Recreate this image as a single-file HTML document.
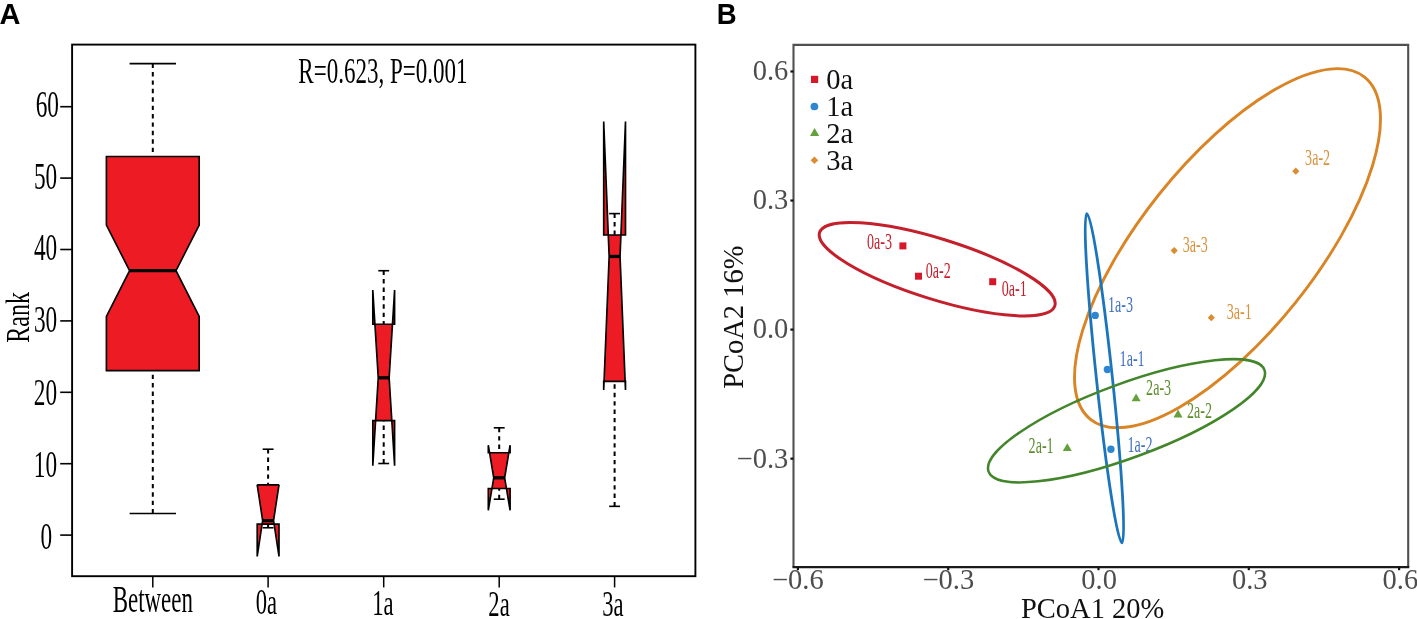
<!DOCTYPE html>
<html><head><meta charset="utf-8"><title>Figure</title>
<style>
html,body{margin:0;padding:0;background:#fff;}
body{width:1417px;height:619px;overflow:hidden;}
svg{display:block;will-change:transform;}
.ser{font-family:"Liberation Serif","Times New Roman",serif;}
.san{font-family:"Liberation Sans",Arial,sans-serif;font-weight:bold;}
</style></head><body>
<svg width="1417" height="619" viewBox="0 0 1417 619">
<rect width="1417" height="619" fill="#fff"/>
<g id="panelA">
<text class="san" x="-0.5" y="23.9" font-size="29" fill="#000">A</text>
<path d="M106.4,370.68 L106.4,316.42 L129.6,270.72 L106.4,225.02 L106.4,156.48 L199.2,156.48 L199.2,225.02 L176.0,270.72 L199.2,316.42 L199.2,370.68 Z" fill="#ED1C24" fill-rule="evenodd" stroke="#000" stroke-width="1.65" stroke-linejoin="miter" stroke-miterlimit="10"/>
<line x1="129.6" y1="270.72" x2="176.0" y2="270.72" stroke="#000" stroke-width="3.3"/>
<line x1="152.8" y1="63.66" x2="152.8" y2="156.48" stroke="#000" stroke-width="2.0" stroke-dasharray="4.4 4.0"/>
<line x1="152.8" y1="513.48" x2="152.8" y2="370.68" stroke="#000" stroke-width="2.0" stroke-dasharray="4.4 4.0"/>
<line x1="129.6" y1="63.66" x2="176.0" y2="63.66" stroke="#000" stroke-width="1.6"/>
<line x1="129.6" y1="513.48" x2="176.0" y2="513.48" stroke="#000" stroke-width="1.6"/>
<path d="M257.2,524.19 L257.2,556.46 L262.65,520.62 L257.2,484.78 L257.2,484.92 L279.0,484.92 L279.0,484.78 L273.55,520.62 L279.0,556.46 L279.0,524.19 Z" fill="#ED1C24" fill-rule="evenodd" stroke="#000" stroke-width="1.65" stroke-linejoin="miter" stroke-miterlimit="10"/>
<line x1="262.65" y1="520.62" x2="273.55" y2="520.62" stroke="#000" stroke-width="3.3"/>
<line x1="268.1" y1="449.22" x2="268.1" y2="484.92" stroke="#000" stroke-width="2.0" stroke-dasharray="4.4 4.0"/>
<line x1="268.1" y1="527.76" x2="268.1" y2="524.19" stroke="#000" stroke-width="2.0" stroke-dasharray="4.4 4.0"/>
<line x1="262.65" y1="449.22" x2="273.55" y2="449.22" stroke="#000" stroke-width="1.6"/>
<line x1="262.65" y1="527.76" x2="273.55" y2="527.76" stroke="#000" stroke-width="1.6"/>
<path d="M372.8,420.66 L372.8,465.64 L378.25,377.82 L372.8,290.0 L372.8,324.27 L394.6,324.27 L394.6,290.0 L389.15,377.82 L394.6,465.64 L394.6,420.66 Z" fill="#ED1C24" fill-rule="evenodd" stroke="#000" stroke-width="1.65" stroke-linejoin="miter" stroke-miterlimit="10"/>
<line x1="378.25" y1="377.82" x2="389.15" y2="377.82" stroke="#000" stroke-width="3.3"/>
<line x1="383.7" y1="270.72" x2="383.7" y2="324.27" stroke="#000" stroke-width="2.0" stroke-dasharray="4.4 4.0"/>
<line x1="383.7" y1="463.5" x2="383.7" y2="420.66" stroke="#000" stroke-width="2.0" stroke-dasharray="4.4 4.0"/>
<line x1="378.25" y1="270.72" x2="389.15" y2="270.72" stroke="#000" stroke-width="1.6"/>
<line x1="378.25" y1="463.5" x2="389.15" y2="463.5" stroke="#000" stroke-width="1.6"/>
<path d="M488.3,488.49 L488.3,510.34 L493.75,477.78 L488.3,445.22 L488.3,452.79 L510.1,452.79 L510.1,445.22 L504.65,477.78 L510.1,510.34 L510.1,488.49 Z" fill="#ED1C24" fill-rule="evenodd" stroke="#000" stroke-width="1.65" stroke-linejoin="miter" stroke-miterlimit="10"/>
<line x1="493.75" y1="477.78" x2="504.65" y2="477.78" stroke="#000" stroke-width="3.3"/>
<line x1="499.2" y1="427.8" x2="499.2" y2="452.79" stroke="#000" stroke-width="2.0" stroke-dasharray="4.4 4.0"/>
<line x1="499.2" y1="499.2" x2="499.2" y2="488.49" stroke="#000" stroke-width="2.0" stroke-dasharray="4.4 4.0"/>
<line x1="493.75" y1="427.8" x2="504.65" y2="427.8" stroke="#000" stroke-width="1.6"/>
<line x1="493.75" y1="499.2" x2="504.65" y2="499.2" stroke="#000" stroke-width="1.6"/>
<path d="M603.7,381.39 L603.7,389.96 L609.15,256.44 L603.7,121.49 L603.7,235.02 L625.5,235.02 L625.5,121.49 L620.05,256.44 L625.5,389.96 L625.5,381.39 Z" fill="#ED1C24" fill-rule="evenodd" stroke="#000" stroke-width="1.65" stroke-linejoin="miter" stroke-miterlimit="10"/>
<line x1="609.15" y1="256.44" x2="620.05" y2="256.44" stroke="#000" stroke-width="3.3"/>
<line x1="614.6" y1="213.6" x2="614.6" y2="235.02" stroke="#000" stroke-width="2.0" stroke-dasharray="4.4 4.0"/>
<line x1="614.6" y1="506.34" x2="614.6" y2="381.39" stroke="#000" stroke-width="2.0" stroke-dasharray="4.4 4.0"/>
<line x1="609.15" y1="213.6" x2="620.05" y2="213.6" stroke="#000" stroke-width="1.6"/>
<line x1="609.15" y1="506.34" x2="620.05" y2="506.34" stroke="#000" stroke-width="1.6"/>
<rect x="72.1" y="44.6" width="623.3" height="531.6" fill="none" stroke="#000" stroke-width="1.9"/>
<line x1="60.2" y1="535.1" x2="72.2" y2="535.1" stroke="#000" stroke-width="1.6"/>
<text class="ser" transform="translate(46.4,549.4) scale(0.63,1)" font-size="37" text-anchor="middle" fill="#000">0</text>
<line x1="60.2" y1="463.7" x2="72.2" y2="463.7" stroke="#000" stroke-width="1.6"/>
<text class="ser" transform="translate(45.4,477.4) scale(0.63,1)" font-size="37" text-anchor="middle" fill="#000">10</text>
<line x1="60.2" y1="392.3" x2="72.2" y2="392.3" stroke="#000" stroke-width="1.6"/>
<text class="ser" transform="translate(45.5,405.1) scale(0.63,1)" font-size="37" text-anchor="middle" fill="#000">20</text>
<line x1="60.2" y1="320.9" x2="72.2" y2="320.9" stroke="#000" stroke-width="1.6"/>
<text class="ser" transform="translate(45.6,331.6) scale(0.63,1)" font-size="37" text-anchor="middle" fill="#000">30</text>
<line x1="60.2" y1="249.5" x2="72.2" y2="249.5" stroke="#000" stroke-width="1.6"/>
<text class="ser" transform="translate(45.6,260.3) scale(0.63,1)" font-size="37" text-anchor="middle" fill="#000">40</text>
<line x1="60.2" y1="178.1" x2="72.2" y2="178.1" stroke="#000" stroke-width="1.6"/>
<text class="ser" transform="translate(45.6,189.4) scale(0.63,1)" font-size="37" text-anchor="middle" fill="#000">50</text>
<line x1="60.2" y1="106.7" x2="72.2" y2="106.7" stroke="#000" stroke-width="1.6"/>
<text class="ser" transform="translate(47.3,117.4) scale(0.63,1)" font-size="37" text-anchor="middle" fill="#000">60</text>
<line x1="152.8" y1="576.2" x2="152.8" y2="587.4" stroke="#000" stroke-width="1.5"/>
<text class="ser" transform="translate(152.8,612.0) scale(0.62,1)" font-size="37" text-anchor="middle" fill="#000">Between</text>
<line x1="268.1" y1="576.2" x2="268.1" y2="587.4" stroke="#000" stroke-width="1.5"/>
<text class="ser" transform="translate(266.4,613.7) scale(0.62,1)" font-size="36.5" text-anchor="middle" fill="#000">0a</text>
<line x1="383.7" y1="576.2" x2="383.7" y2="587.4" stroke="#000" stroke-width="1.5"/>
<text class="ser" transform="translate(382.9,615.0) scale(0.62,1)" font-size="36.5" text-anchor="middle" fill="#000">1a</text>
<line x1="499.2" y1="576.2" x2="499.2" y2="587.4" stroke="#000" stroke-width="1.5"/>
<text class="ser" transform="translate(499.0,615.8) scale(0.62,1)" font-size="36.5" text-anchor="middle" fill="#000">2a</text>
<line x1="614.6" y1="576.2" x2="614.6" y2="587.4" stroke="#000" stroke-width="1.5"/>
<text class="ser" transform="translate(612.9,616.2) scale(0.62,1)" font-size="36.5" text-anchor="middle" fill="#000">3a</text>
<text class="ser" transform="translate(382.9,83.4) scale(0.631,1)" font-size="36.5" text-anchor="middle" fill="#000">R=0.623, P=0.001</text>
<text class="ser" transform="translate(29.3,317.3) rotate(-90) scale(0.707,1)" font-size="34" text-anchor="middle" fill="#000">Rank</text>
</g>
<g id="panelB">
<text class="san" transform="translate(716.7,24) scale(0.95,1)" font-size="29" fill="#000">B</text>
<ellipse cx="1227.5" cy="248.2" rx="219.2" ry="87.1" transform="rotate(-51.3 1227.5 248.2)" fill="none" stroke="#D98425" stroke-width="2.9"/>
<ellipse cx="937.2" cy="269.2" rx="123.2" ry="30.3" transform="rotate(17.3 937.2 269.2)" fill="none" stroke="#C4202C" stroke-width="3"/>
<text class="ser" transform="translate(866.9,248.8) scale(0.60,1)" font-size="23.5" fill="#C4202C">0a-3</text>
<text class="ser" transform="translate(925.7,277.6) scale(0.60,1)" font-size="23.5" fill="#C4202C">0a-2</text>
<text class="ser" transform="translate(1001.7,295.7) scale(0.60,1)" font-size="23.5" fill="#C4202C">0a-1</text>
<text class="ser" transform="translate(1108.0,312.0) scale(0.60,1)" font-size="23.5" fill="#4170C0">1a-3</text>
<text class="ser" transform="translate(1119.6,365.7) scale(0.60,1)" font-size="23.5" fill="#4170C0">1a-1</text>
<text class="ser" transform="translate(1127.4,452.1) scale(0.60,1)" font-size="23.5" fill="#4170C0">1a-2</text>
<text class="ser" transform="translate(1146.1,394.6) scale(0.60,1)" font-size="23.5" fill="#5E8C2F">2a-3</text>
<text class="ser" transform="translate(1186.9,417.6) scale(0.60,1)" font-size="23.5" fill="#5E8C2F">2a-2</text>
<text class="ser" transform="translate(1028.6,452.6) scale(0.60,1)" font-size="23.5" fill="#5E8C2F">2a-1</text>
<text class="ser" transform="translate(1305.1,164.8) scale(0.60,1)" font-size="23.5" fill="#D9923B">3a-2</text>
<text class="ser" transform="translate(1182.7,252.0) scale(0.60,1)" font-size="23.5" fill="#D9923B">3a-3</text>
<text class="ser" transform="translate(1226.7,319.3) scale(0.60,1)" font-size="23.5" fill="#D9923B">3a-1</text>
<ellipse cx="1104.4" cy="378.2" rx="8" ry="165.6" transform="rotate(-6.07 1104.4 378.2)" fill="none" stroke="#1B75BC" stroke-width="2.8"/>
<ellipse cx="1126.5" cy="420.8" rx="147.0" ry="37.0" transform="rotate(-20.25 1126.5 420.8)" fill="none" stroke="#43852B" stroke-width="2.5"/>
<rect x="899.4" y="242.4" width="7.0" height="7.0" fill="#D7182A"/>
<rect x="915.0" y="272.7" width="7.0" height="7.0" fill="#D7182A"/>
<rect x="989.2" y="278.2" width="7.0" height="7.0" fill="#D7182A"/>
<circle cx="1095.2" cy="315.4" r="3.7" fill="#2E86D1"/>
<circle cx="1107.4" cy="369.5" r="3.7" fill="#2E86D1"/>
<circle cx="1110.9" cy="449.2" r="3.7" fill="#2E86D1"/>
<path d="M1131.6,401.3 L1140.6,401.3 L1136.1,393.5 Z" fill="#64A03C"/>
<path d="M1173.5,417.4 L1182.5,417.4 L1178.0,409.6 Z" fill="#64A03C"/>
<path d="M1062.8,451.0 L1071.8,451.0 L1067.3,443.2 Z" fill="#64A03C"/>
<path d="M1292.2,171.2 L1295.8,167.6 L1299.4,171.2 L1295.8,174.8 Z" fill="#DC8C30"/>
<path d="M1170.6,250.6 L1174.2,247.0 L1177.8,250.6 L1174.2,254.2 Z" fill="#DC8C30"/>
<path d="M1207.7,317.7 L1211.3,314.1 L1214.9,317.7 L1211.3,321.3 Z" fill="#DC8C30"/>
<path d="M793.5,567.1 L793.5,44.9 L1408.2,44.9 L1408.2,567.1" fill="none" stroke="#505050" stroke-width="2.1"/>
<line x1="792.45" y1="567.1" x2="1409.25" y2="567.1" stroke="#1a1a1a" stroke-width="2.1"/>
<line x1="790.4" y1="71.48" x2="793.5" y2="71.48" stroke="#111" stroke-width="2.2"/>
<text class="ser" x="788.3" y="80.3" font-size="28.5" text-anchor="end" fill="#4d4d4d">0.6</text>
<line x1="790.4" y1="200.54" x2="793.5" y2="200.54" stroke="#111" stroke-width="2.2"/>
<text class="ser" x="788.3" y="209.3" font-size="28.5" text-anchor="end" fill="#4d4d4d">0.3</text>
<line x1="790.4" y1="329.6" x2="793.5" y2="329.6" stroke="#111" stroke-width="2.2"/>
<text class="ser" x="788.3" y="338.4" font-size="28.5" text-anchor="end" fill="#4d4d4d">0.0</text>
<line x1="790.4" y1="458.66" x2="793.5" y2="458.66" stroke="#111" stroke-width="2.2"/>
<text class="ser" x="788.3" y="467.5" font-size="28.5" text-anchor="end" fill="#4d4d4d">−0.3</text>
<line x1="797.9" y1="567.1" x2="797.9" y2="570.2" stroke="#111" stroke-width="2.2"/>
<text class="ser" x="797.8" y="589.1" font-size="28.5" text-anchor="middle" fill="#4d4d4d">−0.6</text>
<line x1="948.2" y1="567.1" x2="948.2" y2="570.2" stroke="#111" stroke-width="2.2"/>
<text class="ser" x="948.4" y="589.1" font-size="28.5" text-anchor="middle" fill="#4d4d4d">−0.3</text>
<line x1="1098.5" y1="567.1" x2="1098.5" y2="570.2" stroke="#111" stroke-width="2.2"/>
<text class="ser" x="1099.1" y="589.1" font-size="28.5" text-anchor="middle" fill="#4d4d4d">0.0</text>
<line x1="1248.8" y1="567.1" x2="1248.8" y2="570.2" stroke="#111" stroke-width="2.2"/>
<text class="ser" x="1249.8" y="589.1" font-size="28.5" text-anchor="middle" fill="#4d4d4d">0.3</text>
<line x1="1399.1" y1="567.1" x2="1399.1" y2="570.2" stroke="#111" stroke-width="2.2"/>
<text class="ser" x="1400.4" y="589.1" font-size="28.5" text-anchor="middle" fill="#4d4d4d">0.6</text>
<text class="ser" x="1092.6" y="618.4" font-size="28.5" text-anchor="middle" fill="#111">PCoA1 20%</text>
<text class="ser" transform="translate(742.5,317.2) rotate(-90)" font-size="28.5" text-anchor="middle" fill="#111">PCoA2 16%</text>
<rect x="811.0" y="75.8" width="7.2" height="7.2" fill="#D7182A"/>
<circle cx="814.4" cy="106.5" r="3.85" fill="#2E86D1"/>
<path d="M810.0,136.1 L819.2,136.1 L814.6,128.1 Z" fill="#64A03C"/>
<path d="M810.6,160.3 L814.4,156.5 L818.2,160.3 L814.4,164.1 Z" fill="#DC8C30"/>
<text class="ser" x="826.3" y="88.5" font-size="28.5" fill="#111">0a</text>
<text class="ser" x="826.3" y="115.8" font-size="28.5" fill="#111">1a</text>
<text class="ser" x="826.3" y="143.0" font-size="28.5" fill="#111">2a</text>
<text class="ser" x="826.3" y="170.1" font-size="28.5" fill="#111">3a</text>
</g>
</svg>
</body></html>
